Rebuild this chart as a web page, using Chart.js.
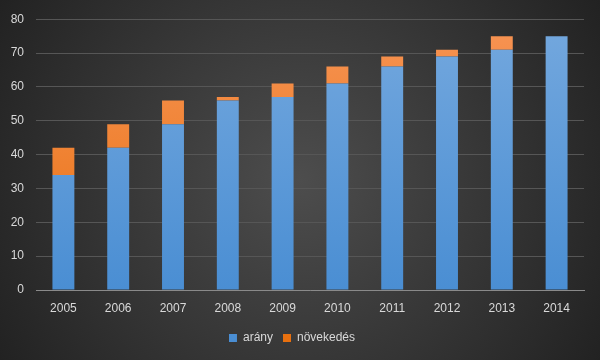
<!DOCTYPE html>
<html><head><meta charset="utf-8">
<script src="https://cdn.jsdelivr.net/npm/chart.js@4/dist/chart.umd.min.js"></script>
<style>html,body{margin:0;padding:0;background:#333}#w{width:600px;height:360px}</style>
</head><body><div id="w"><canvas id="c"></canvas></div>
<script>
const categories = ['2005','2006','2007','2008','2009','2010','2011','2012','2013','2014'];
const arany = [34, 42, 49, 56, 57, 61, 66, 69, 71, 75];
const novekedes = [8, 7, 7, 1, 4, 5, 3, 2, 4, 0];
const seriesNames = ['arány', 'növekedés'];

const bgPlugin = {
  id: 'bg',
  beforeDraw(chart) {
    const ctx = chart.ctx, w = chart.width, h = chart.height;
    const g = ctx.createRadialGradient(w/2, h/2, 0, w/2, h/2, Math.sqrt(w*w+h*h)/2);
    g.addColorStop(0, '#4d4d4d');
    g.addColorStop(1, '#222222');
    ctx.save(); ctx.fillStyle = g; ctx.fillRect(0, 0, w, h); ctx.restore();
  }
};
function grad(c1, c2) {
  return (ctx) => {
    const chart = ctx.chart, a = chart.chartArea;
    if (!a) return c1;
    const g = chart.ctx.createLinearGradient(0, a.top, 0, a.bottom);
    g.addColorStop(0, c1); g.addColorStop(1, c2);
    return g;
  };
}
new Chart(document.getElementById('c'), {
  type: 'bar',
  data: {
    labels: categories,
    datasets: [
      { label: seriesNames[0], data: arany, backgroundColor: grad('#74a8de', '#4a8ed3') , borderWidth: 0},
      { label: seriesNames[1], data: novekedes, backgroundColor: grad('#f79455', '#e8700f'), borderWidth: 0 }
    ]
  },
  options: {
    responsive: true, maintainAspectRatio: false, animation: false,
    layout: { padding: { top: 10, right: 16, left: 0, bottom: 6 } },
    datasets: { bar: { categoryPercentage: 0.8, barPercentage: 0.5 } },
    plugins: {
      legend: { position: 'bottom', labels: { color: '#d9d9d9', boxWidth: 8, boxHeight: 8, padding: 10, font: { family: 'Liberation Sans', size: 12 } } },
      tooltip: { enabled: false }
    },
    scales: {
      x: { stacked: true,
        afterFit(s) { s.height = 32; },
        grid: { display: false, drawTicks: false },
        border: { color: '#8a8a8a', width: 1 },
        ticks: { color: '#d9d9d9', padding: 11, font: { family: 'Liberation Sans', size: 12 } } },
      y: { stacked: true, min: 0, max: 80,
        afterFit(s) { s.width = 36; },
        grid: { color: '#565656', drawTicks: false },
        border: { display: false },
        ticks: { stepSize: 10, color: '#d9d9d9', padding: 12, font: { family: 'Liberation Sans', size: 12 } } }
    }
  },
  plugins: [bgPlugin]
});
</script></body></html>
